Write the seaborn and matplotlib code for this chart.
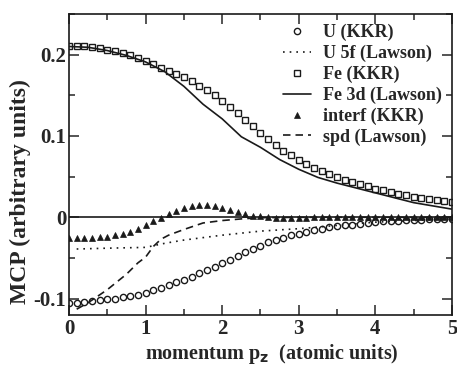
import numpy as np
import pandas as pd
import seaborn as sns
import matplotlib
matplotlib.use("Agg")
import matplotlib.pyplot as plt
from matplotlib.ticker import MultipleLocator, FuncFormatter

# momentum grid of the KKR points (0 .. 5 au, step 0.1)
p_kkr = np.round(np.arange(0, 5.01, 0.1), 1)

u_kkr = [-0.105, -0.105, -0.104, -0.103, -0.102, -0.101, -0.100, -0.098, -0.097, -0.095,
         -0.093, -0.090, -0.087, -0.083, -0.080, -0.077, -0.073, -0.069, -0.065, -0.061,
         -0.056, -0.052, -0.048, -0.043, -0.039, -0.035, -0.031, -0.028, -0.025, -0.022,
         -0.020, -0.018, -0.016, -0.014, -0.012, -0.011, -0.010, -0.009, -0.008, -0.007,
         -0.006, -0.005, -0.004, -0.004, -0.003, -0.003, -0.003, -0.002, -0.002, -0.002,
         -0.002]

fe_kkr = [0.211, 0.211, 0.210, 0.209, 0.208, 0.206, 0.204, 0.202, 0.199, 0.196,
          0.192, 0.188, 0.184, 0.180, 0.176, 0.172, 0.167, 0.162, 0.156, 0.150,
          0.143, 0.136, 0.128, 0.120, 0.112, 0.104, 0.096, 0.089, 0.082, 0.076,
          0.070, 0.065, 0.061, 0.057, 0.053, 0.049, 0.046, 0.043, 0.041, 0.038,
          0.035, 0.033, 0.031, 0.029, 0.027, 0.025, 0.024, 0.022, 0.021, 0.0195,
          0.019]

interf_kkr = [-0.025, -0.025, -0.025, -0.025, -0.024, -0.024, -0.022, -0.020, -0.018, -0.014,
              -0.010, -0.005, -0.001, 0.004, 0.008, 0.012, 0.014, 0.0155, 0.0155, 0.014,
              0.012, 0.009, 0.006, 0.004, 0.002, 0.001, 0.000, -0.001, -0.001, -0.001,
              -0.001, -0.0005, 0.000, 0.000, 0.000, 0.000, 0.000, 0.000, 0.000, 0.000,
              0.000, 0.000, 0.000, 0.000, 0.000, 0.000, 0.000, 0.000, 0.000, 0.000,
              0.000]

# Lawson curves
p_u5f = [0.1, 0.5, 1.0, 1.25, 1.5, 2.0, 2.5, 3.0, 3.5, 4.0, 4.5, 5.0]
u5f = [-0.039, -0.038, -0.037, -0.032, -0.028, -0.022, -0.017, -0.014, -0.010, -0.006, -0.004, -0.002]

p_fe3d = [0.0, 0.25, 0.5, 0.75, 1.0, 1.25, 1.5, 1.75, 2.0, 2.25, 2.5, 2.75, 3.0,
          3.25, 3.5, 3.75, 4.0, 4.25, 4.5, 4.75, 5.0]
fe3d = [0.210, 0.209, 0.205, 0.199, 0.191, 0.179, 0.161, 0.139, 0.121, 0.099, 0.086, 0.071, 0.059,
        0.049, 0.042, 0.036, 0.030, 0.024, 0.018, 0.014, 0.010]

p_spd = [0.1, 0.25, 0.5, 0.75, 0.9, 1.0, 1.1, 1.2, 1.3, 1.5, 1.75, 2.0, 2.25, 2.5, 3.0, 4.0, 5.0]
spd = [-0.113, -0.105, -0.089, -0.070, -0.056, -0.049, -0.036, -0.027, -0.022, -0.015,
       -0.007, -0.004, -0.002, -0.0005, 0.0, 0.0, 0.0]

sns.set_theme(style="ticks")
plt.rcParams['font.family'] = ['Liberation Serif', 'DejaVu Serif']
plt.rcParams['font.weight'] = 'bold'
plt.rcParams['axes.labelweight'] = 'bold'
plt.rcParams['axes.unicode_minus'] = False

fig = plt.figure(figsize=(4.57, 3.67), dpi=100)
ax = fig.add_axes([0.151, 0.142, 0.838, 0.82])

ax.axhline(0, color='k', lw=1.2, zorder=1)

sns.lineplot(x=p_kkr, y=u_kkr, ax=ax, color='k', marker='o', linestyle='', ms=4.5,
             mfc='none', mec='k', mew=1.0, label='U (KKR)')
sns.lineplot(x=p_u5f, y=u5f, ax=ax, color='k', lw=1.2, linestyle=(0, (1, 3)), label='U 5f (Lawson)')
sns.lineplot(x=p_kkr, y=fe_kkr, ax=ax, color='k', marker='s', linestyle='', ms=4.2,
             mfc='none', mec='k', mew=1.0, label='Fe (KKR)')
sns.lineplot(x=p_fe3d, y=fe3d, ax=ax, color='k', lw=1.2, label='Fe 3d (Lawson)')
sns.lineplot(x=p_kkr, y=interf_kkr, ax=ax, color='k', marker='^', linestyle='', ms=5,
             mfc='k', mec='k', mew=0.5, label='interf (KKR)')
sns.lineplot(x=p_spd, y=spd, ax=ax, color='k', lw=1.2, linestyle=(0, (4.5, 3)), label='spd (Lawson)')

ax.set_xlim(0, 5)
ax.set_ylim(-0.12, 0.25)
ax.xaxis.set_major_locator(MultipleLocator(1))
ax.xaxis.set_minor_locator(MultipleLocator(0.5))
ax.yaxis.set_major_locator(MultipleLocator(0.1))
ax.yaxis.set_minor_locator(MultipleLocator(0.05))
ax.yaxis.set_major_formatter(FuncFormatter(lambda v, pos: '0' if abs(v) < 1e-9 else f'{v:g}'))
ax.tick_params(which='both', direction='in', top=True, right=True, width=1.1, labelsize=15, pad=3)
ax.tick_params(axis='y', pad=2)
ax.tick_params(which='major', length=7)
ax.tick_params(which='minor', length=4)
for s in ax.spines.values():
    s.set_linewidth(1.2)
    s.set_color('k')

ax.set_xlabel(r'momentum p$_\mathbf{z}$  (atomic units)', fontsize=14.5)
ax.set_ylabel('MCP (arbitrary units)', fontsize=17)
ax.xaxis.set_label_coords(0.53, -0.09)
ax.yaxis.set_label_coords(-0.10, 0.41)

ax.legend(loc='upper right', frameon=False, fontsize=13, handlelength=1.5,
          handletextpad=0.7, labelspacing=0.2, borderaxespad=0.15)

fig.savefig('out.png', dpi=100)
